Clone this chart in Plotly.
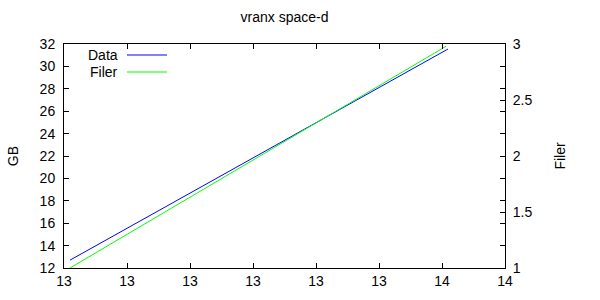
import plotly.graph_objects as go

# Data
x_time = [12.9095, 13.5095]
data_gb = [12.7, 31.55]
x_filer = [12.9095, 13.5065]
filer_vals = [1.0, 2.98]

x_tickvals = [12.9, 13.0, 13.1, 13.2, 13.3, 13.4, 13.5, 13.6]
x_ticktext = ["13", "13", "13", "13", "13", "13", "14", "14"]
y_tickvals = [12, 14, 16, 18, 20, 22, 24, 26, 28, 30, 32]
y2_tickvals = [1, 1.5, 2, 2.5, 3]
y2_ticktext = ["1", "1.5", "2", "2.5", "3"]

FONT = "Liberation Sans, Arial, sans-serif"

fig = go.Figure()
fig.add_trace(go.Scatter(x=x_time, y=data_gb, mode="lines", name="Data",
                         line=dict(color="#0000ff", width=1), yaxis="y"))
fig.add_trace(go.Scatter(x=x_filer, y=filer_vals, mode="lines", name="Filer",
                         line=dict(color="#00ff00", width=1), yaxis="y2"))

axis_common = dict(showgrid=False, zeroline=False, showline=True, linecolor="black",
                   linewidth=1, ticks="inside", ticklen=5, tickcolor="black",
                   tickfont=dict(family=FONT, size=14, color="black"))

fig.update_layout(
    width=600, height=300,
    margin=dict(l=64, r=95, t=44, b=32),
    paper_bgcolor="white", plot_bgcolor="white",
    showlegend=False,
    title=dict(text="vranx space-d", x=(64 + 505) / 2 / 600, xanchor="center", y=1 - 17 / 300,
               yanchor="middle", font=dict(family=FONT, size=14, color="black")),
    xaxis=dict(range=[12.9, 13.6], tickvals=x_tickvals, ticktext=x_ticktext,
               mirror="ticks", **axis_common),
    yaxis=dict(range=[12, 32], tickvals=y_tickvals, mirror="ticks", ticklabelstandoff=5,
               title=dict(text="GB", font=dict(family=FONT, size=14, color="black"), standoff=17),
               **axis_common),
    yaxis2=dict(range=[1, 3], tickvals=y2_tickvals, ticktext=y2_ticktext,
                overlaying="y", side="right", ticklabelstandoff=4,
                title=dict(text="Filer", font=dict(family=FONT, size=14, color="black"), standoff=23),
                **axis_common),
)

# gnuplot-style legend (text right-aligned, sample line to the right)
legend_items = [("Data", "#0000ff", 55), ("Filer", "#00ff00", 72)]
for label, color, ypx in legend_items:
    fig.add_annotation(text=label, xref="paper", yref="paper", x=(120 - 64) / 441,
                       y=(268 - ypx) / 224,
                       xanchor="right", yanchor="middle", showarrow=False,
                       font=dict(family=FONT, size=14, color="black"))
    fig.add_shape(type="line", xref="paper", yref="paper",
                  x0=(127 - 64) / 441, x1=(167 - 64) / 441,
                  y0=(268 - ypx) / 224, y1=(268 - ypx) / 224,
                  line=dict(color=color, width=1))

fig.write_html("out.html")
